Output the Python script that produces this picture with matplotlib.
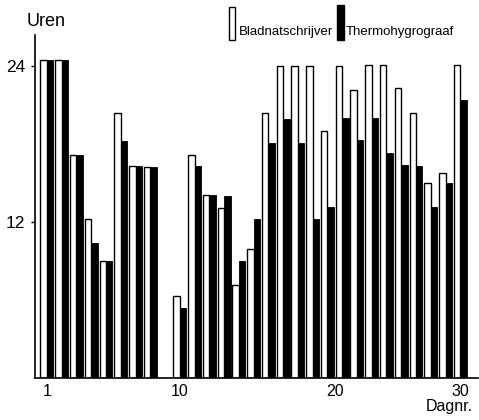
import numpy as np
import matplotlib
matplotlib.use('Agg')
import matplotlib.pyplot as plt
from matplotlib.patches import Rectangle

plt.rcParams['font.family'] = ['Liberation Sans', 'DejaVu Sans']

# ── Data: hours of leaf wetness per day ─────────────────────────────────────
days = np.arange(1, 30)
bladnat = [24.5, 24.5, 17.2, 12.2, 9.0, 20.4, 16.3, 16.25, 0, 6.3,
           17.2, 14.1, 13.1, 7.15, 9.9, 20.4, 24.0, 24.0, 24.0, 19.0,
           24.0, 22.2, 24.1, 24.1, 22.3, 20.4, 15.0, 15.8, 24.1]
thermo = [24.5, 24.5, 17.2, 10.4, 9.0, 18.25, 16.3, 16.25, 0, 5.4,
          16.3, 14.1, 14.0, 9.0, 12.2, 18.1, 19.9, 18.1, 12.2, 13.2,
          20.0, 18.3, 20.0, 17.3, 16.4, 16.3, 13.2, 15.0, 21.4]
y_ticks = [12, 24]
x_tick_pos = [1, 10, 20.5, 29]
x_tick_lbl = ['1', '10', '20', '30']

# ── Figure ─────────────────────────────────────────────────────────────────
W, H = 479, 420
fig = plt.figure(figsize=(W / 100, H / 100), dpi=100, facecolor='white')
ax = fig.add_axes([35 / W, 42 / H, (478 - 35) / W, (378 - 35) / H])

w = 0.44
ax.bar(days - w / 2, bladnat, width=w, facecolor='white',
       edgecolor='black', linewidth=1.0, zorder=2)
ax.bar(days + w / 2, thermo, width=w, facecolor='black',
       edgecolor='black', linewidth=0.6, zorder=3)

ax.set_xlim(0.19, 30.2)
ax.set_ylim(0, 26.4)
for s in ['top', 'right']:
    ax.spines[s].set_visible(False)
for s in ['left', 'bottom']:
    ax.spines[s].set_linewidth(1.2)

ax.set_yticks(y_ticks)
ax.set_yticklabels([str(v) for v in y_ticks], fontsize=12.5)
ax.tick_params(axis='y', length=3, width=1, pad=4)
ax.set_xticks(x_tick_pos)
ax.set_xticklabels(x_tick_lbl, fontsize=11.5)
ax.tick_params(axis='x', length=0, pad=4)

# ── Axis titles ──────────────────────────────────────────────────────────────
fig.text(27 / W, 1 - 21 / H, 'Uren', fontsize=13, ha='left', va='center')
fig.text(473 / W, 1 - 399 / H, 'Dagnr.', fontsize=11.5, ha='right', va='top')

# ── Legend (tall narrow swatches) ───────────────────────────────────────────
fig.patches.append(Rectangle((229 / W, 1 - 40 / H), 6 / W, 33 / H,
                             facecolor='white', edgecolor='black', lw=1,
                             transform=fig.transFigure))
fig.patches.append(Rectangle((337 / W, 1 - 40 / H), 7 / W, 35 / H,
                             facecolor='black', edgecolor='black', lw=1,
                             transform=fig.transFigure))
fig.text(239 / W, 1 - 32 / H, 'Bladnatschrijver', fontsize=9.5,
         ha='left', va='center')
fig.text(346 / W, 1 - 32 / H, 'Thermohygrograaf', fontsize=9.5,
         ha='left', va='center')

fig.savefig('out.png', dpi=100, facecolor='white')
